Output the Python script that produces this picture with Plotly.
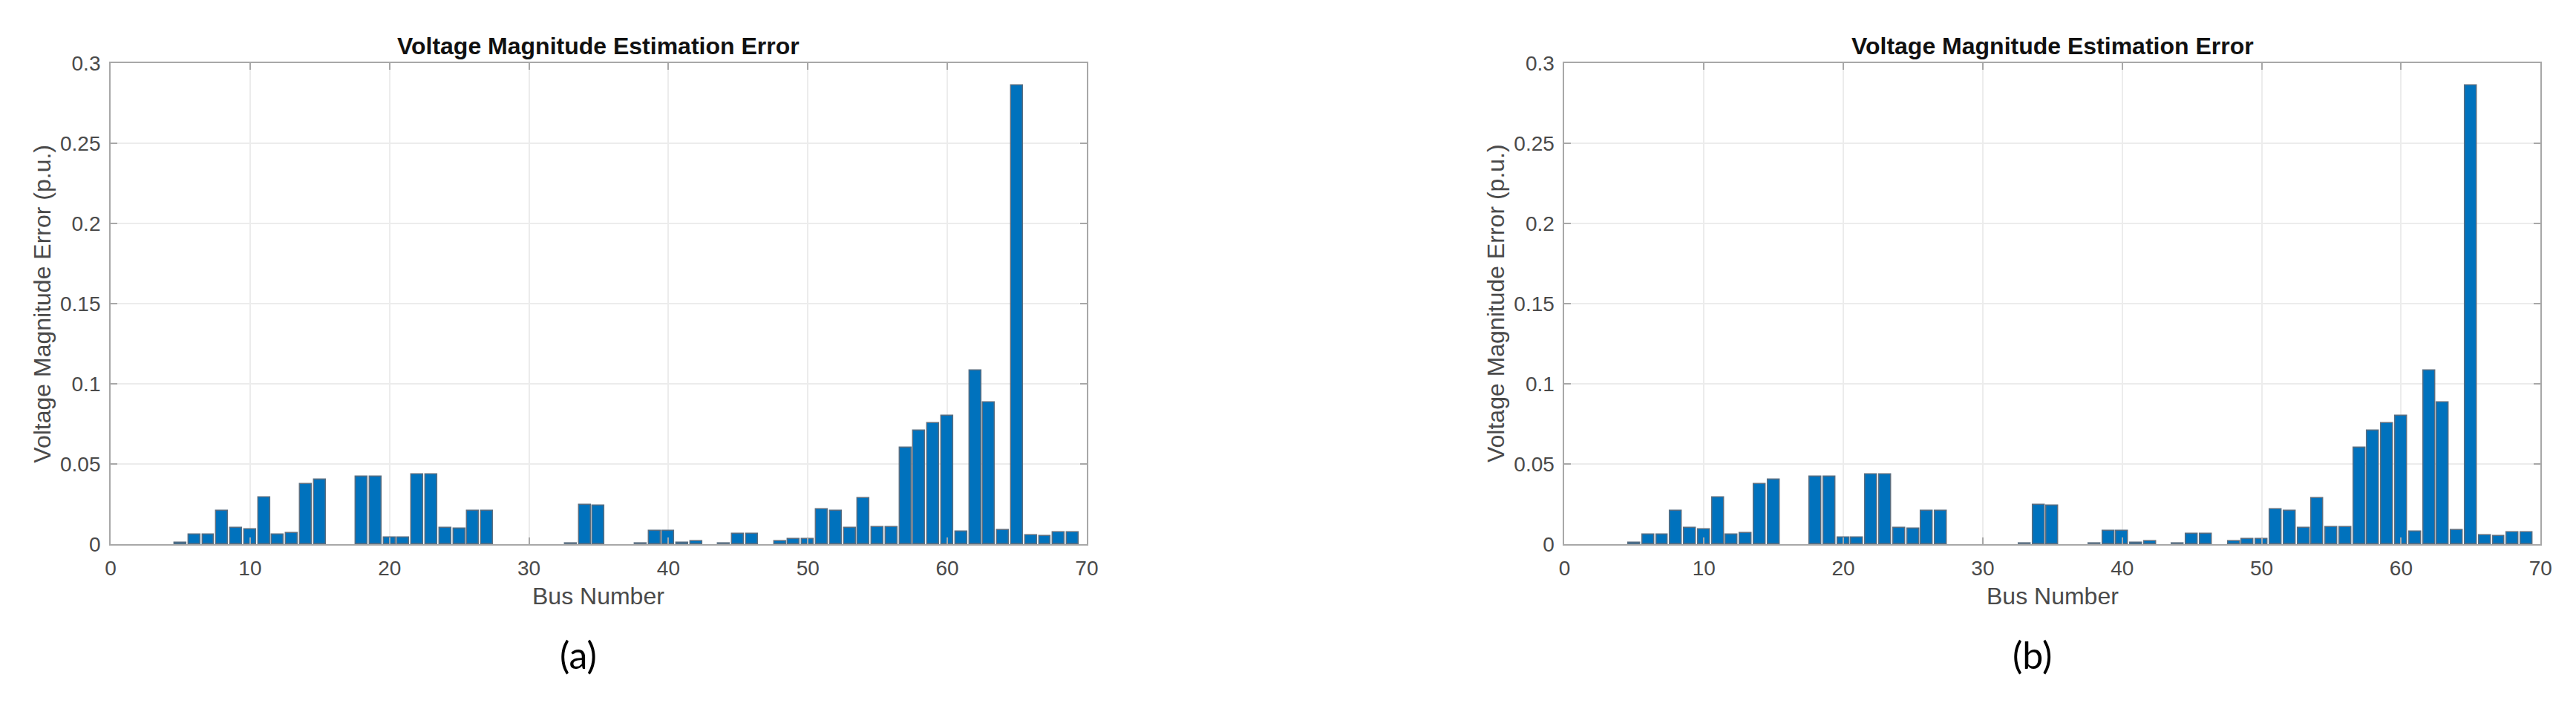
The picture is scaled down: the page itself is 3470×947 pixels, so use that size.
import plotly.graph_objects as go

bus_numbers = list(range(1, 70))

# Voltage magnitude estimation error (p.u.) per bus, panel (a)
errors_a = [
    0.0, 0.0, 0.0, 0.0, 0.0008, 0.006, 0.006, 0.021, 0.010, 0.0095,
    0.029, 0.006, 0.007, 0.0375, 0.0405, 0.0, 0.0, 0.042, 0.042, 0.004,
    0.004, 0.0435, 0.0435, 0.010, 0.0098, 0.021, 0.021, 0.0, 0.0, 0.0,
    0.0, 0.0, 0.0006, 0.0246, 0.024, 0.0, 0.0, 0.0006, 0.0085, 0.0085,
    0.001, 0.0018, 0.0, 0.0006, 0.0067, 0.0067, 0.0, 0.0018, 0.0033, 0.0033,
    0.0217, 0.021, 0.0103, 0.0286, 0.0105, 0.0105, 0.060, 0.0707, 0.0757, 0.080,
    0.0081, 0.1084, 0.0885, 0.0086, 0.2859, 0.0057, 0.0053, 0.0073, 0.0073,
]
# Panel (b) shows the same errors
errors_b = list(errors_a)

x_ticks = [0, 10, 20, 30, 40, 50, 60, 70]
y_ticks = [0, 0.05, 0.1, 0.15, 0.2, 0.25, 0.3]
y_tick_text = ["0", "0.05", "0.1", "0.15", "0.2", "0.25", "0.3"]

title_text = "Voltage Magnitude Estimation Error"
x_label = "Bus Number"
y_label = "Voltage Magnitude Error (p.u.)"
panel_labels = ["(a)", "(b)"]

W, H = 3470, 947
BAR_FILL = "#0072BD"
BAR_EDGE = "#5b6e80"
AXIS_COLOR = "#a8a8a8"
GRID_COLOR = "#ececec"
TEXT_COLOR = "#4a4a4a"
FONT = "Liberation Sans, Arial, sans-serif"

# pixel geometry of the two axes boxes
panels = [
    dict(x0=134, x1=1458, data=errors_a, label=panel_labels[0], lab_x=768),
    dict(x0=2106, x1=3430, data=errors_b, label=panel_labels[1], lab_x=2740),
]
y_top, y_bot = 64, 734

fig = go.Figure()
annotations = []
for i, p in enumerate(panels):
    sfx = "" if i == 0 else str(i + 1)
    edge_widths = [1.5 if v > 0 else 0 for v in p["data"]]
    fig.add_trace(go.Bar(
        x=bus_numbers, y=p["data"], width=0.85,
        marker=dict(color=BAR_FILL, line=dict(color=BAR_EDGE, width=edge_widths)),
        xaxis="x" + sfx, yaxis="y" + sfx, showlegend=False,
    ))
    xdom = [p["x0"] / W, p["x1"] / W]
    ydom = [(H - y_bot) / H, (H - y_top) / H]
    axis_common = dict(
        showline=True, linecolor=AXIS_COLOR, linewidth=2, mirror="ticks",
        ticks="inside", ticklen=9, tickwidth=1.5, tickcolor=AXIS_COLOR,
        showgrid=True, gridcolor=GRID_COLOR, gridwidth=1.5, zeroline=False,
        tickfont=dict(family=FONT, size=28, color=TEXT_COLOR),
    )
    fig.layout["xaxis" + sfx] = dict(
        domain=xdom, range=[0, 70], tickvals=x_ticks,
        anchor="y" + sfx, ticklabelstandoff=6, **axis_common,
    )
    fig.layout["yaxis" + sfx] = dict(
        domain=ydom, range=[0, 0.3], tickvals=y_ticks, ticktext=y_tick_text,
        anchor="x" + sfx, ticklabelstandoff=6, **axis_common,
    )
    cx = (p["x0"] + p["x1"]) / 2 / W
    annotations += [
        dict(text="<b>" + title_text + "</b>", x=cx, y=(H - 40) / H,
             xref="paper", yref="paper", showarrow=False,
             font=dict(family=FONT, size=32, color="#111111"),
             xanchor="center", yanchor="middle"),
        dict(text=x_label, x=cx, y=(H - 806) / H, xref="paper", yref="paper",
             showarrow=False, font=dict(family=FONT, size=32, color=TEXT_COLOR),
             xanchor="center", yanchor="middle"),
        dict(text=y_label, x=(p["x0"] - 93) / W, y=(H - (y_top + y_bot) / 2) / H,
             xref="paper", yref="paper", showarrow=False, textangle=-90,
             font=dict(family=FONT, size=32, color=TEXT_COLOR),
             xanchor="center", yanchor="middle"),
        dict(text=p["label"], x=p["lab_x"] / W, y=(H - 888) / H,
             xref="paper", yref="paper", showarrow=False,
             font=dict(family="Lato, Open Sans, sans-serif", size=50, color="#000000"),
             xanchor="center", yanchor="middle"),
    ]

fig.update_layout(
    width=W, height=H, margin=dict(l=0, r=0, t=0, b=0),
    paper_bgcolor="white", plot_bgcolor="white",
    bargap=0, annotations=annotations,
)

fig.write_html("out.html")
